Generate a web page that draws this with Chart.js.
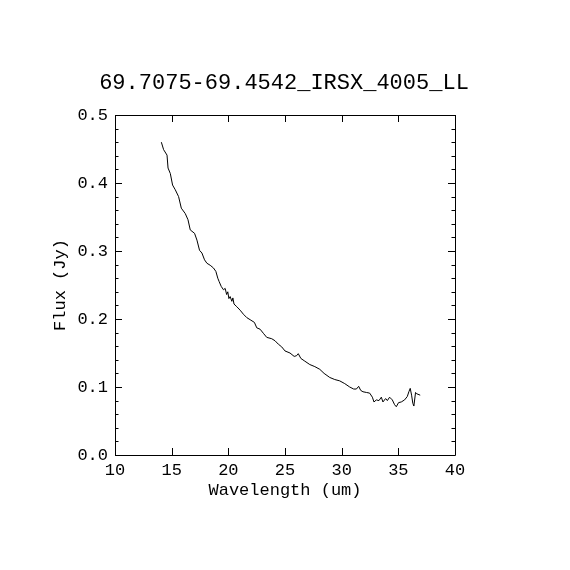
<!DOCTYPE html>
<html>
<head>
<meta charset="utf-8">
<script src="https://cdn.jsdelivr.net/npm/chart.js@4/dist/chart.umd.min.js"></script>
<style>
  html, body { margin: 0; padding: 0; background: #ffffff; }
  #c { display: block; }
</style>
</head>
<body>
<canvas id="c" width="570" height="570"></canvas>
<script>
const chartTitle = "69.7075-69.4542_IRSX_4005_LL";
const xAxisTitle = "Wavelength (um)";
const yAxisTitle = "Flux (Jy)";

const wavelength = [
  14.09, 14.29, 14.59, 14.68, 14.88, 15.08, 15.32, 15.61, 15.85, 16.20,
  16.44, 16.64, 17.02, 17.23, 17.46, 17.67, 17.90, 18.11, 18.40, 18.69,
  18.90, 19.07, 19.19, 19.37, 19.57, 19.72, 19.85, 19.95, 20.05, 20.16,
  20.31, 20.40, 20.50, 20.75, 21.04, 21.33, 21.63, 21.92, 22.30, 22.51,
  22.80, 23.09, 23.39, 23.83, 24.12, 24.41, 24.71, 25.00, 25.44, 25.81,
  26.02, 26.17, 26.40, 26.75, 27.19, 27.63, 28.07, 28.45, 28.95, 29.39,
  29.83, 30.27, 30.71, 31.06, 31.30, 31.50, 31.68, 31.88, 32.18, 32.47,
  32.71, 32.85, 33.06, 33.29, 33.50, 33.64, 33.88, 34.03, 34.23, 34.47,
  34.67, 34.82, 35.02, 35.26, 35.55, 35.79, 35.93, 36.05, 36.17, 36.28,
  36.37, 36.52, 36.63, 36.93
];
const flux = [
  0.460, 0.449, 0.441, 0.422, 0.414, 0.397, 0.390, 0.380, 0.363, 0.355,
  0.346, 0.331, 0.326, 0.316, 0.301, 0.297, 0.287, 0.282, 0.279, 0.275,
  0.270, 0.260, 0.255, 0.248, 0.243, 0.245, 0.236, 0.240, 0.230, 0.233,
  0.226, 0.231, 0.222, 0.218, 0.213, 0.207, 0.202, 0.199, 0.195, 0.187,
  0.185, 0.179, 0.173, 0.171, 0.168, 0.163, 0.159, 0.153, 0.150, 0.145,
  0.146, 0.149, 0.142, 0.138, 0.133, 0.130, 0.126, 0.120, 0.114, 0.111,
  0.109, 0.105, 0.100, 0.097, 0.097, 0.101, 0.095, 0.093, 0.092, 0.091,
  0.085, 0.078, 0.081, 0.080, 0.085, 0.078, 0.083, 0.080, 0.085, 0.081,
  0.074, 0.071, 0.077, 0.078, 0.081, 0.086, 0.093, 0.098, 0.088, 0.076,
  0.072, 0.092, 0.090, 0.088
];

const xMajorTicks = [10, 15, 20, 25, 30, 35, 40];
const yMajorTicks = [0.0, 0.1, 0.2, 0.3, 0.4, 0.5];
const yMinorStep = 0.02;

const FONT = "'Liberation Mono', 'DejaVu Sans Mono', monospace";

const points = wavelength.map((w, i) => ({ x: w, y: flux[i] }));

const frameTicks = {
  id: 'frameTicks',
  afterDatasetsDraw(chart) {
    const { ctx, chartArea: a, scales: { x, y } } = chart;
    ctx.save();
    ctx.strokeStyle = '#000';
    ctx.lineWidth = 1;
    ctx.beginPath();
    ctx.rect(Math.round(a.left) + 0.5, Math.round(a.top) + 0.5,
             Math.round(a.right - a.left), Math.round(a.bottom - a.top));
    ctx.stroke();
    const MAJ = 7, MIN = 3.5;
    ctx.beginPath();
    xMajorTicks.forEach(v => {
      const px = Math.round(x.getPixelForValue(v)) + 0.5;
      ctx.moveTo(px, a.bottom); ctx.lineTo(px, a.bottom - MAJ);
      ctx.moveTo(px, a.top); ctx.lineTo(px, a.top + MAJ);
    });
    const n = Math.round((y.max - y.min) / yMinorStep);
    for (let i = 0; i <= n; i++) {
      const v = y.min + i * yMinorStep;
      const major = i % 5 === 0;
      const len = major ? MAJ : MIN;
      const py = Math.round(y.getPixelForValue(v)) + 0.5;
      ctx.moveTo(a.left, py); ctx.lineTo(a.left + len, py);
      ctx.moveTo(a.right, py); ctx.lineTo(a.right - len, py);
    }
    ctx.stroke();
    // Title centred over the plot frame
    ctx.fillStyle = '#000';
    ctx.font = "22px " + FONT;
    ctx.textAlign = 'center';
    ctx.textBaseline = 'middle';
    ctx.fillText(chartTitle, (a.left + a.right) / 2 - 1, a.top - 32);
    ctx.restore();
  }
};

new Chart(document.getElementById('c'), {
  type: 'line',
  data: {
    datasets: [{
      data: points,
      borderColor: '#000000',
      borderWidth: 1,
      pointRadius: 0,
      tension: 0,
      fill: false
    }]
  },
  options: {
    responsive: false,
    animation: false,
    devicePixelRatio: 1,
    layout: { padding: { top: 115, right: 115, bottom: 0, left: 0 } },
    plugins: {
      legend: { display: false },
      tooltip: { enabled: false },
      title: { display: false }
    },
    scales: {
      x: {
        type: 'linear',
        min: 10, max: 40,
        afterFit(s) { s.height = 115; },
        afterBuildTicks(s) { s.ticks = xMajorTicks.map(v => ({ value: v })); },
        grid: { display: false, drawTicks: false },
        border: { display: false },
        ticks: {
          color: '#000',
          font: { family: FONT, size: 17 },
          padding: 5,
          maxRotation: 0,
          autoSkip: false,
          callback: v => String(v)
        },
        title: {
          display: true,
          text: xAxisTitle,
          color: '#000',
          font: { family: FONT, size: 17, lineHeight: 1.2 },
          padding: { top: 0, bottom: 69 }
        }
      },
      y: {
        type: 'linear',
        min: 0, max: 0.5,
        afterFit(s) { s.width = 115; },
        afterBuildTicks(s) { s.ticks = yMajorTicks.map(v => ({ value: v })); },
        grid: { display: false, drawTicks: false },
        border: { display: false },
        ticks: {
          color: '#000',
          font: { family: FONT, size: 17 },
          padding: 7,
          autoSkip: false,
          callback: v => Number(v).toFixed(1)
        },
        title: {
          display: true,
          text: yAxisTitle,
          color: '#000',
          font: { family: FONT, size: 17, lineHeight: 1.2 },
          padding: { top: 50, bottom: 0 }
        }
      }
    }
  },
  plugins: [frameTicks]
});
</script>
</body>
</html>
